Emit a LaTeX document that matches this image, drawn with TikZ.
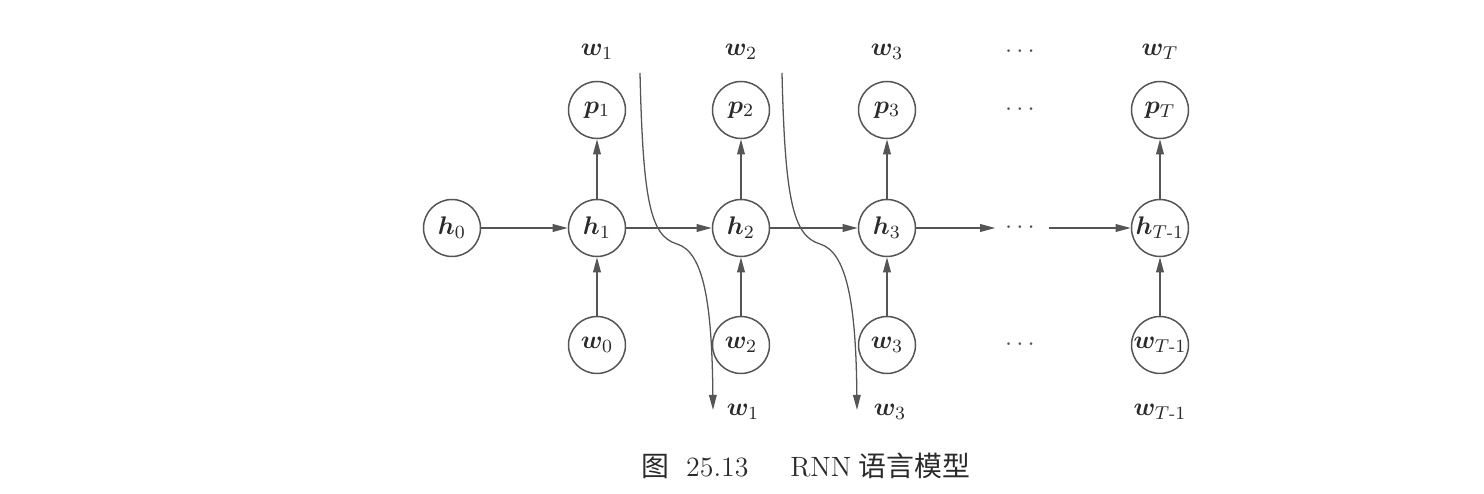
\documentclass[tikz,border=0pt]{standalone}
\usepackage{amsmath,bm}
\usepackage{fontspec}
\newfontfamily\cjk{Noto Sans CJK SC}
\usetikzlibrary{arrows.meta}
\definecolor{ln}{HTML}{555555}
\definecolor{tx}{HTML}{2A2A2A}
\begin{document}
\begin{tikzpicture}[x=0.43pt,y=-0.43pt,
  font=\fontsize{10.8pt}{13pt}\selectfont,
  unit/.style={circle,draw=ln,line width=0.65pt,minimum size=24.5pt,inner sep=0pt,text=tx},
  lbl/.style={text=tx,inner sep=1pt},
  dotsnode/.style={text=ln,inner xsep=4pt,inner ysep=1pt},
  conn/.style={draw=ln,line width=0.65pt,-{Triangle[length=6.5pt,width=3.3pt]}},
  shiftcurve/.style={draw=ln,line width=0.55pt,-{Triangle[length=6.5pt,width=3.3pt]}}]
\useasboundingbox (0,0) rectangle (1484,494);
% hidden states
\node[unit] (h0) at (452,228) {$\bm{h}_0$};
\node[unit] (h1) at (597,228) {$\bm{h}_1$};
\node[unit] (h2) at (741,228) {$\bm{h}_2$};
\node[unit] (h3) at (887,228) {$\bm{h}_3$};
\node[dotsnode] (dh) at (1022,228) {$\cdots$};
\node[unit] (hT) at (1160,228) {$\bm{h}_{T\text{-}1}$};
% outputs
\node[unit] (p1) at (597,110) {$\bm{p}_1$};
\node[unit] (p2) at (741,110) {$\bm{p}_2$};
\node[unit] (p3) at (887,110) {$\bm{p}_3$};
\node[dotsnode] (dp) at (1022,110) {$\cdots$};
\node[unit] (pT) at (1160,110) {$\bm{p}_T$};
% inputs
\node[unit] (w0) at (597,345) {$\bm{w}_0$};
\node[unit] (w2) at (741,345) {$\bm{w}_2$};
\node[unit] (w3) at (887,345) {$\bm{w}_3$};
\node[dotsnode] (dw) at (1022,345) {$\cdots$};
\node[unit] (wT) at (1160,345) {$\bm{w}_{T\text{-}1}$};
% top labels
\node[lbl] (tw1) at (597,52) {$\bm{w}_1$};
\node[lbl] (tw2) at (741,52) {$\bm{w}_2$};
\node[lbl] (tw3) at (887,52) {$\bm{w}_3$};
\node[dotsnode] (tdots) at (1022,52) {$\cdots$};
\node[lbl] (twT) at (1160,52) {$\bm{w}_T$};
% bottom labels
\node[lbl] (bw1) at (743,412) {$\bm{w}_1$};
\node[lbl] (bw3) at (890,412) {$\bm{w}_3$};
\node[lbl] (bwT) at (1160,412) {$\bm{w}_{T\text{-}1}$};
% horizontal connectors
\draw[conn] (h0) -- (h1);
\draw[conn] (h1) -- (h2);
\draw[conn] (h2) -- (h3);
\draw[conn] (h3) -- (dh);
\draw[conn] (dh) -- (hT);
% vertical connectors
\foreach \a/\b in {h1/p1,h2/p2,h3/p3,hT/pT,w0/h1,w2/h2,w3/h3,wT/hT}
  \draw[conn] (\a) -- (\b);
% shifting curves
\coordinate (c1a) at (640,73);
\coordinate (c1b) at (713,410);
\coordinate (c2a) at (782,73);
\coordinate (c2b) at (857,410);
\draw[shiftcurve] (c1a) .. controls (643,200) and (650,236) .. (677,244)
  .. controls (703,252) and (712,300) .. (c1b);
\draw[shiftcurve] (c2a) .. controls (785,200) and (793,236) .. (820,244)
  .. controls (846,252) and (856,300) .. (c2b);
% caption
\node[text=tx,inner sep=0pt,font=\fontsize{12pt}{14pt}\selectfont] (cap) at (806,466)
  {{\cjk 图}\hspace{7pt}25.13\hspace{18pt}RNN\hspace{3pt}{\cjk 语言模型}};
\end{tikzpicture}
\end{document}
